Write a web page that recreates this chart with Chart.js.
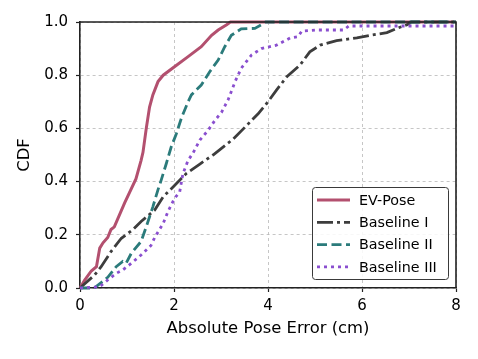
<!DOCTYPE html>
<html>
<head>
<meta charset="utf-8">
<script src="https://cdn.jsdelivr.net/npm/chart.js@4.4.0/dist/chart.umd.min.js"></script>
<style>
  html, body { margin: 0; padding: 0; background: #fff; }
  #wrap { width: 478px; height: 359px; }
</style>
</head>
<body>
<div id="wrap"><canvas id="cdfChart" width="478" height="359"></canvas></div>
<script>
// values
const seriesLabels = ['EV-Pose', 'Baseline I', 'Baseline II', 'Baseline III'];

const evPoseErr = [0, 0.1, 0.24, 0.35, 0.42, 0.49, 0.59, 0.66, 0.73, 0.95, 1.19, 1.30, 1.34, 1.41, 1.48, 1.55, 1.66, 1.77, 2.01, 2.30, 2.58, 2.80, 2.94, 3.12, 3.2, 8];
const evPoseCdf = [0, 0.03, 0.064, 0.08, 0.15, 0.17, 0.19, 0.22, 0.23, 0.32, 0.41, 0.48, 0.51, 0.60, 0.68, 0.726, 0.776, 0.80, 0.832, 0.87, 0.907, 0.95, 0.97, 0.99, 1.0, 1.0];

const base1Err = [0, 0.31, 0.45, 0.66, 0.88, 1.13, 1.30, 1.59, 1.77, 1.98, 2.26, 2.55, 2.83, 3.26, 3.54, 3.79, 4.00, 4.18, 4.40, 4.68, 4.89, 5.11, 5.46, 5.89, 6.18, 6.53, 6.74, 6.96, 7.05, 8];
const base1Cdf = [0, 0.049, 0.08, 0.137, 0.187, 0.22, 0.25, 0.293, 0.343, 0.38, 0.43, 0.466, 0.50, 0.56, 0.61, 0.655, 0.70, 0.744, 0.794, 0.838, 0.888, 0.913, 0.93, 0.94, 0.95, 0.96, 0.976, 0.99, 1.0, 1.0];

const base2Err = [0, 0.3, 0.45, 0.59, 0.77, 0.91, 0.98, 1.09, 1.30, 1.41, 1.55, 1.66, 1.70, 1.84, 1.94, 2.05, 2.16, 2.30, 2.37, 2.58, 2.76, 2.94, 3.08, 3.22, 3.43, 3.72, 3.86, 3.95, 8];
const base2Cdf = [0, 0, 0.02, 0.04, 0.08, 0.10, 0.093, 0.13, 0.175, 0.23, 0.305, 0.37, 0.39, 0.47, 0.53, 0.58, 0.64, 0.70, 0.726, 0.763, 0.813, 0.857, 0.907, 0.95, 0.974, 0.976, 0.99, 1.0, 1.0];

const base3Err = [0, 0.42, 0.59, 0.77, 0.91, 1.05, 1.30, 1.51, 1.59, 1.77, 1.87, 2.01, 2.12, 2.19, 2.30, 2.40, 2.55, 2.73, 2.87, 3.01, 3.15, 3.30, 3.43, 3.65, 3.86, 4.18, 4.47, 4.64, 4.72, 5.04, 5.61, 5.72, 8];
const base3Cdf = [0, 0.005, 0.03, 0.055, 0.068, 0.087, 0.124, 0.16, 0.19, 0.243, 0.287, 0.337, 0.36, 0.43, 0.48, 0.506, 0.556, 0.594, 0.63, 0.66, 0.707, 0.776, 0.826, 0.876, 0.90, 0.913, 0.94, 0.945, 0.966, 0.97, 0.97, 0.985, 0.985];

const xTicks = [0, 2, 4, 6, 8];
const yTicks = [0, 0.2, 0.4, 0.6, 0.8, 1.0];

const toPoints = (xs, ys) => xs.map((x, i) => ({ x: x, y: ys[i] }));

const FONT = 'DejaVu Sans';

// matplotlib-style legend box in the lower right corner of the axes
const boxLegend = {
    id: 'boxLegend',
    afterDraw(chart) {
        const ctx = chart.ctx;
        const area = chart.chartArea;
        const w = 136, h = 92;
        const x0 = area.right - 8 - w;
        const y0 = area.bottom - 9 - h;
        ctx.save();
        ctx.fillStyle = 'rgba(255,255,255,0.85)';
        ctx.strokeStyle = '#3a3a3a';
        ctx.lineWidth = 1;
        ctx.beginPath();
        ctx.roundRect(x0 + 0.5, y0 + 0.5, w, h, 3);
        ctx.fill();
        ctx.stroke();

        ctx.font = '14.3px "' + FONT + '"';
        ctx.textBaseline = 'middle';
        ctx.fillStyle = '#000';
        chart.data.datasets.forEach((ds, i) => {
            const cy = y0 + 13 + i * 22.3;
            ctx.strokeStyle = ds.borderColor;
            ctx.lineWidth = ds.borderWidth;
            ctx.setLineDash(ds.borderDash || []);
            ctx.beginPath();
            ctx.moveTo(x0 + 5, cy);
            ctx.lineTo(x0 + 38, cy);
            ctx.stroke();
            ctx.setLineDash([]);
            ctx.fillText(ds.label, x0 + 47, cy + 1);
        });
        ctx.restore();
    }
};

// top and right spines
const frame = {
    id: 'frame',
    afterDatasetsDraw(chart) {
        const ctx = chart.ctx;
        const a = chart.chartArea;
        ctx.save();
        ctx.strokeStyle = '#222';
        ctx.lineWidth = 1.6;
        ctx.beginPath();
        ctx.moveTo(a.left, a.top);
        ctx.lineTo(a.right, a.top);
        ctx.lineTo(a.right, a.bottom);
        ctx.stroke();
        ctx.restore();
    }
};

const colors = ['#b3506f', '#3d3d3d', '#2b7b7b', '#8a4fcf'];
const dashes = [[], [16, 4, 3, 4], [10, 4.5], [3, 4]];
const seriesData = [
    toPoints(evPoseErr, evPoseCdf),
    toPoints(base1Err, base1Cdf),
    toPoints(base2Err, base2Cdf),
    toPoints(base3Err, base3Cdf)
];

const datasets = seriesLabels.map((label, i) => ({
    label: label,
    data: seriesData[i],
    borderColor: colors[i],
    backgroundColor: colors[i],
    borderWidth: i === 0 ? 3 : 2.8,
    borderDash: dashes[i],
    pointRadius: 0,
    tension: 0,
    fill: false,
    clip: 2
}));
// draw order: EV-Pose on top like the reference
datasets.forEach((d, i) => { d.order = 3 - i; });

new Chart(document.getElementById('cdfChart'), {
    type: 'line',
    data: { datasets: datasets },
    options: {
        responsive: false,
        animation: false,
        devicePixelRatio: 1,
        layout: { padding: { top: 22, right: 22, left: 0, bottom: 0 } },
        plugins: {
            legend: { display: false },
            tooltip: { enabled: false }
        },
        scales: {
            x: {
                type: 'linear',
                min: 0,
                max: 8,
                afterBuildTicks: (s) => { s.ticks = xTicks.map(v => ({ value: v })); },
                afterFit: (s) => { s.height = 71; },
                ticks: {
                    color: '#000',
                    padding: 5,
                    maxRotation: 0,
                    font: { family: FONT, size: 15 },
                    callback: (v) => String(v)
                },
                grid: {
                    color: '#b8b8b8',
                    lineWidth: 0.8,
                    tickLength: 4,
                    tickColor: '#222',
                    tickWidth: 1.2,
                    tickBorderDash: []
                },
                border: { display: true, color: '#222', width: 1.6, dash: [3, 3] },
                title: {
                    display: true,
                    text: 'Absolute Pose Error (cm)',
                    color: '#000',
                    font: { family: FONT, size: 16.4 },
                    padding: { top: 0, bottom: 20 }
                }
            },
            y: {
                min: 0,
                max: 1,
                afterBuildTicks: (s) => { s.ticks = yTicks.map(v => ({ value: v })); },
                afterFit: (s) => { s.width = 80; },
                ticks: {
                    color: '#000',
                    padding: 8,
                    font: { family: FONT, size: 15 },
                    callback: (v) => Number(v).toFixed(1)
                },
                grid: {
                    color: '#b8b8b8',
                    lineWidth: 0.8,
                    tickLength: 4,
                    tickColor: '#222',
                    tickWidth: 1.2,
                    tickBorderDash: []
                },
                border: { display: true, color: '#222', width: 1.6, dash: [3, 3] },
                title: {
                    display: true,
                    text: 'CDF',
                    color: '#000',
                    font: { family: FONT, size: 16.4 },
                    padding: { top: 15, bottom: 0 }
                }
            }
        }
    },
    plugins: [frame, boxLegend]
});
</script>
</body>
</html>
